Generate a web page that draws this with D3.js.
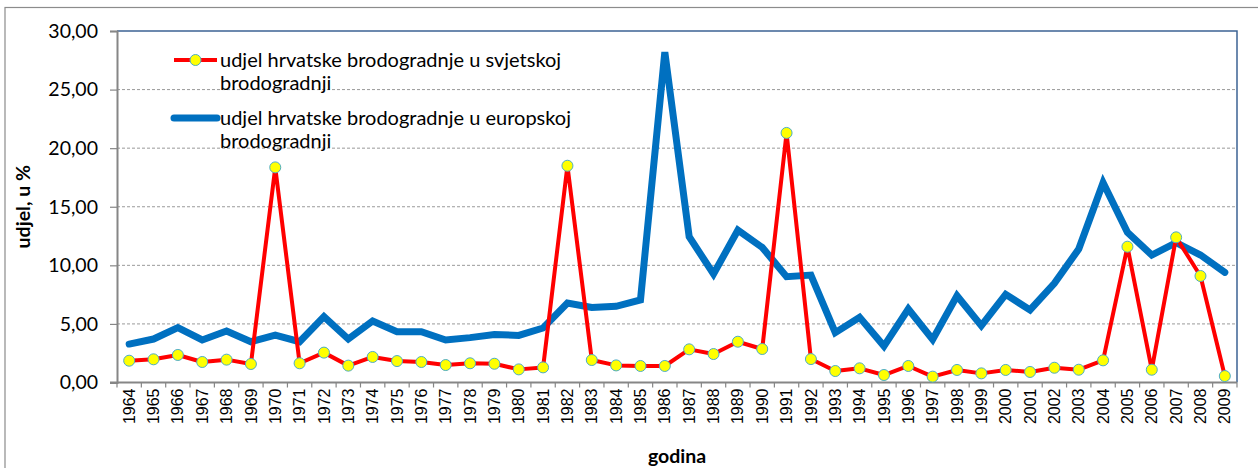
<!DOCTYPE html>
<html>
<head>
<meta charset="utf-8">
<script src="https://cdn.jsdelivr.net/npm/d3@7"></script>
<style>
  body { margin: 0; background: #fff; }
  svg { display: block; }
</style>
</head>
<body>
<svg id="chart" width="1258" height="468"></svg>
<script>
const years = [1964,1965,1966,1967,1968,1969,1970,1971,1972,1973,1974,1975,1976,1977,1978,1979,1980,1981,1982,1983,1984,1985,1986,1987,1988,1989,1990,1991,1992,1993,1994,1995,1996,1997,1998,1999,2000,2001,2002,2003,2004,2005,2006,2007,2008,2009];
const worldShare = [1.86,1.98,2.35,1.75,1.95,1.58,18.36,1.64,2.55,1.44,2.18,1.83,1.75,1.49,1.64,1.60,1.12,1.29,18.50,1.92,1.46,1.41,1.41,2.83,2.43,3.48,2.86,21.30,2.00,0.98,1.21,0.64,1.41,0.50,1.07,0.78,1.07,0.90,1.26,1.09,1.89,11.59,1.09,12.39,9.09,0.55];
const europeShare = [3.28,3.71,4.68,3.63,4.39,3.48,4.05,3.48,5.62,3.71,5.25,4.34,4.34,3.63,3.83,4.10,4.02,4.65,6.78,6.40,6.50,7.05,28.20,12.44,9.26,13.00,11.53,9.03,9.17,4.25,5.56,3.11,6.27,3.68,7.41,4.85,7.52,6.19,8.46,11.39,17.05,12.81,10.88,11.93,10.88,9.40];
const yTicks = [0,5,10,15,20,25,30];
const seriesNames = ["udjel hrvatske brodogradnje u svjetskoj", "udjel hrvatske brodogradnje u europskoj"];
const seriesNames2 = ["brodogradnji", "brodogradnji"];
const xTitle = "godina";
const yTitle = "udjel, u %";

(function () {
const svg = d3.select("#chart");
const pLeft = 117, pRight = 1237, pTop = 31, pBottom = 382.5;
const fontMain = "Lato, 'Open Sans', sans-serif";

// outer chart border
svg.append("rect").attr("x", 5).attr("y", 7.5).attr("width", 1300).attr("height", 500)
  .attr("fill", "none").attr("stroke", "#8c8c8c").attr("stroke-width", 1.2);

const x = d3.scaleBand().domain(years).range([pLeft, pRight]);
const y = d3.scaleLinear().domain([0, 30]).range([pBottom, pTop]);
const fmt = d3.formatLocale({decimal: ",", thousands: ".", grouping: [3], currency: ["", ""]}).format(".2f");

// gridlines
svg.append("g").selectAll("line").data(yTicks.filter(d => d > 0 && d < 30)).join("line")
  .attr("x1", pLeft).attr("x2", pRight)
  .attr("y1", d => y(d)).attr("y2", d => y(d))
  .attr("stroke", "#9a9a9a").attr("stroke-width", 1).attr("stroke-dasharray", "3,2");

// plot border (top, right)
svg.append("path")
  .attr("d", `M${pLeft},${y(30)}H${pRight}V${pBottom}`)
  .attr("fill", "none").attr("stroke", "#3c6394").attr("stroke-width", 1.5);

// y axis
const yAxis = d3.axisLeft(y).tickValues(yTicks).tickFormat(fmt).tickSize(7).tickPadding(12);
const gy = svg.append("g").attr("transform", `translate(${pLeft},0)`).call(yAxis);
gy.select(".domain").attr("stroke", "#868686").attr("stroke-width", 2);
gy.selectAll(".tick line").attr("stroke", "#868686").attr("stroke-width", 1.2);
gy.selectAll("text").attr("font-family", fontMain).attr("font-size", 19.5).attr("fill", "#000");

// x axis
const xAxis = d3.axisBottom(x).tickSize(0).tickPadding(0);
const gx = svg.append("g").attr("transform", `translate(0,${pBottom})`).call(xAxis);
gx.select(".domain").remove();
svg.append("line").attr("x1", pLeft - 7).attr("x2", pRight).attr("y1", pBottom).attr("y2", pBottom)
  .attr("stroke", "#868686").attr("stroke-width", 2);
svg.append("g").selectAll("line").data(years.concat(["end"])).join("line")
  .attr("x1", (d, i) => pLeft + i * x.step()).attr("x2", (d, i) => pLeft + i * x.step())
  .attr("y1", pBottom).attr("y2", pBottom + 5)
  .attr("stroke", "#868686").attr("stroke-width", 1.2);
gx.selectAll(".tick text")
  .attr("transform", "rotate(-90)")
  .attr("text-anchor", "end")
  .attr("x", -6).attr("y", 0).attr("dy", "0.35em")
  .attr("font-family", "'Liberation Sans', Arial, sans-serif").attr("font-size", 16).attr("fill", "#000");

// axis titles
svg.append("text").attr("x", (pLeft + pRight) / 2).attr("y", 463).attr("text-anchor", "middle")
  .attr("font-family", fontMain).attr("font-weight", "bold").attr("font-size", 19.5).text(xTitle);
svg.append("text").attr("transform", `translate(30,${(pTop + pBottom) / 2}) rotate(-90)`)
  .attr("text-anchor", "middle")
  .attr("font-family", fontMain).attr("font-weight", "bold").attr("font-size", 19.5).text(yTitle);

const cx = d => x(d) + x.bandwidth() / 2;
const line = d3.line().x((d, i) => cx(years[i])).y(d => y(d));

// europe series (blue)
svg.append("path").datum(europeShare).attr("d", line)
  .attr("fill", "none").attr("stroke", "#0070C0").attr("stroke-width", 7)
  .attr("stroke-linejoin", "miter").attr("stroke-linecap", "round");

// world series (red)
svg.append("path").datum(worldShare).attr("d", line)
  .attr("fill", "none").attr("stroke", "#FF0000").attr("stroke-width", 4)
  .attr("stroke-linejoin", "round");
svg.append("g").selectAll("circle").data(worldShare).join("circle")
  .attr("cx", (d, i) => cx(years[i])).attr("cy", d => y(d)).attr("r", 5.5)
  .attr("fill", "#FFFF00").attr("stroke", "#4BACC6").attr("stroke-width", 1);

// legend
const lg = svg.append("g");
const legY = [60, 118];
lg.append("line").attr("x1", 174).attr("x2", 217).attr("y1", legY[0]).attr("y2", legY[0])
  .attr("stroke", "#FF0000").attr("stroke-width", 4);
lg.append("circle").attr("cx", 195.5).attr("cy", legY[0]).attr("r", 5.5)
  .attr("fill", "#FFFF00").attr("stroke", "#4BACC6").attr("stroke-width", 1);
lg.append("line").attr("x1", 174).attr("x2", 217).attr("y1", legY[1]).attr("y2", legY[1])
  .attr("stroke", "#0070C0").attr("stroke-width", 7).attr("stroke-linecap", "round");
seriesNames.forEach((name, i) => {
  const t = lg.append("text").attr("x", 220).attr("y", legY[i] + 7)
    .attr("font-family", fontMain).attr("font-size", 20).attr("fill", "#000");
  t.append("tspan").attr("x", 220).text(name);
  t.append("tspan").attr("x", 220).attr("dy", 23).text(seriesNames2[i]);
});
})();
</script>
</body>
</html>
